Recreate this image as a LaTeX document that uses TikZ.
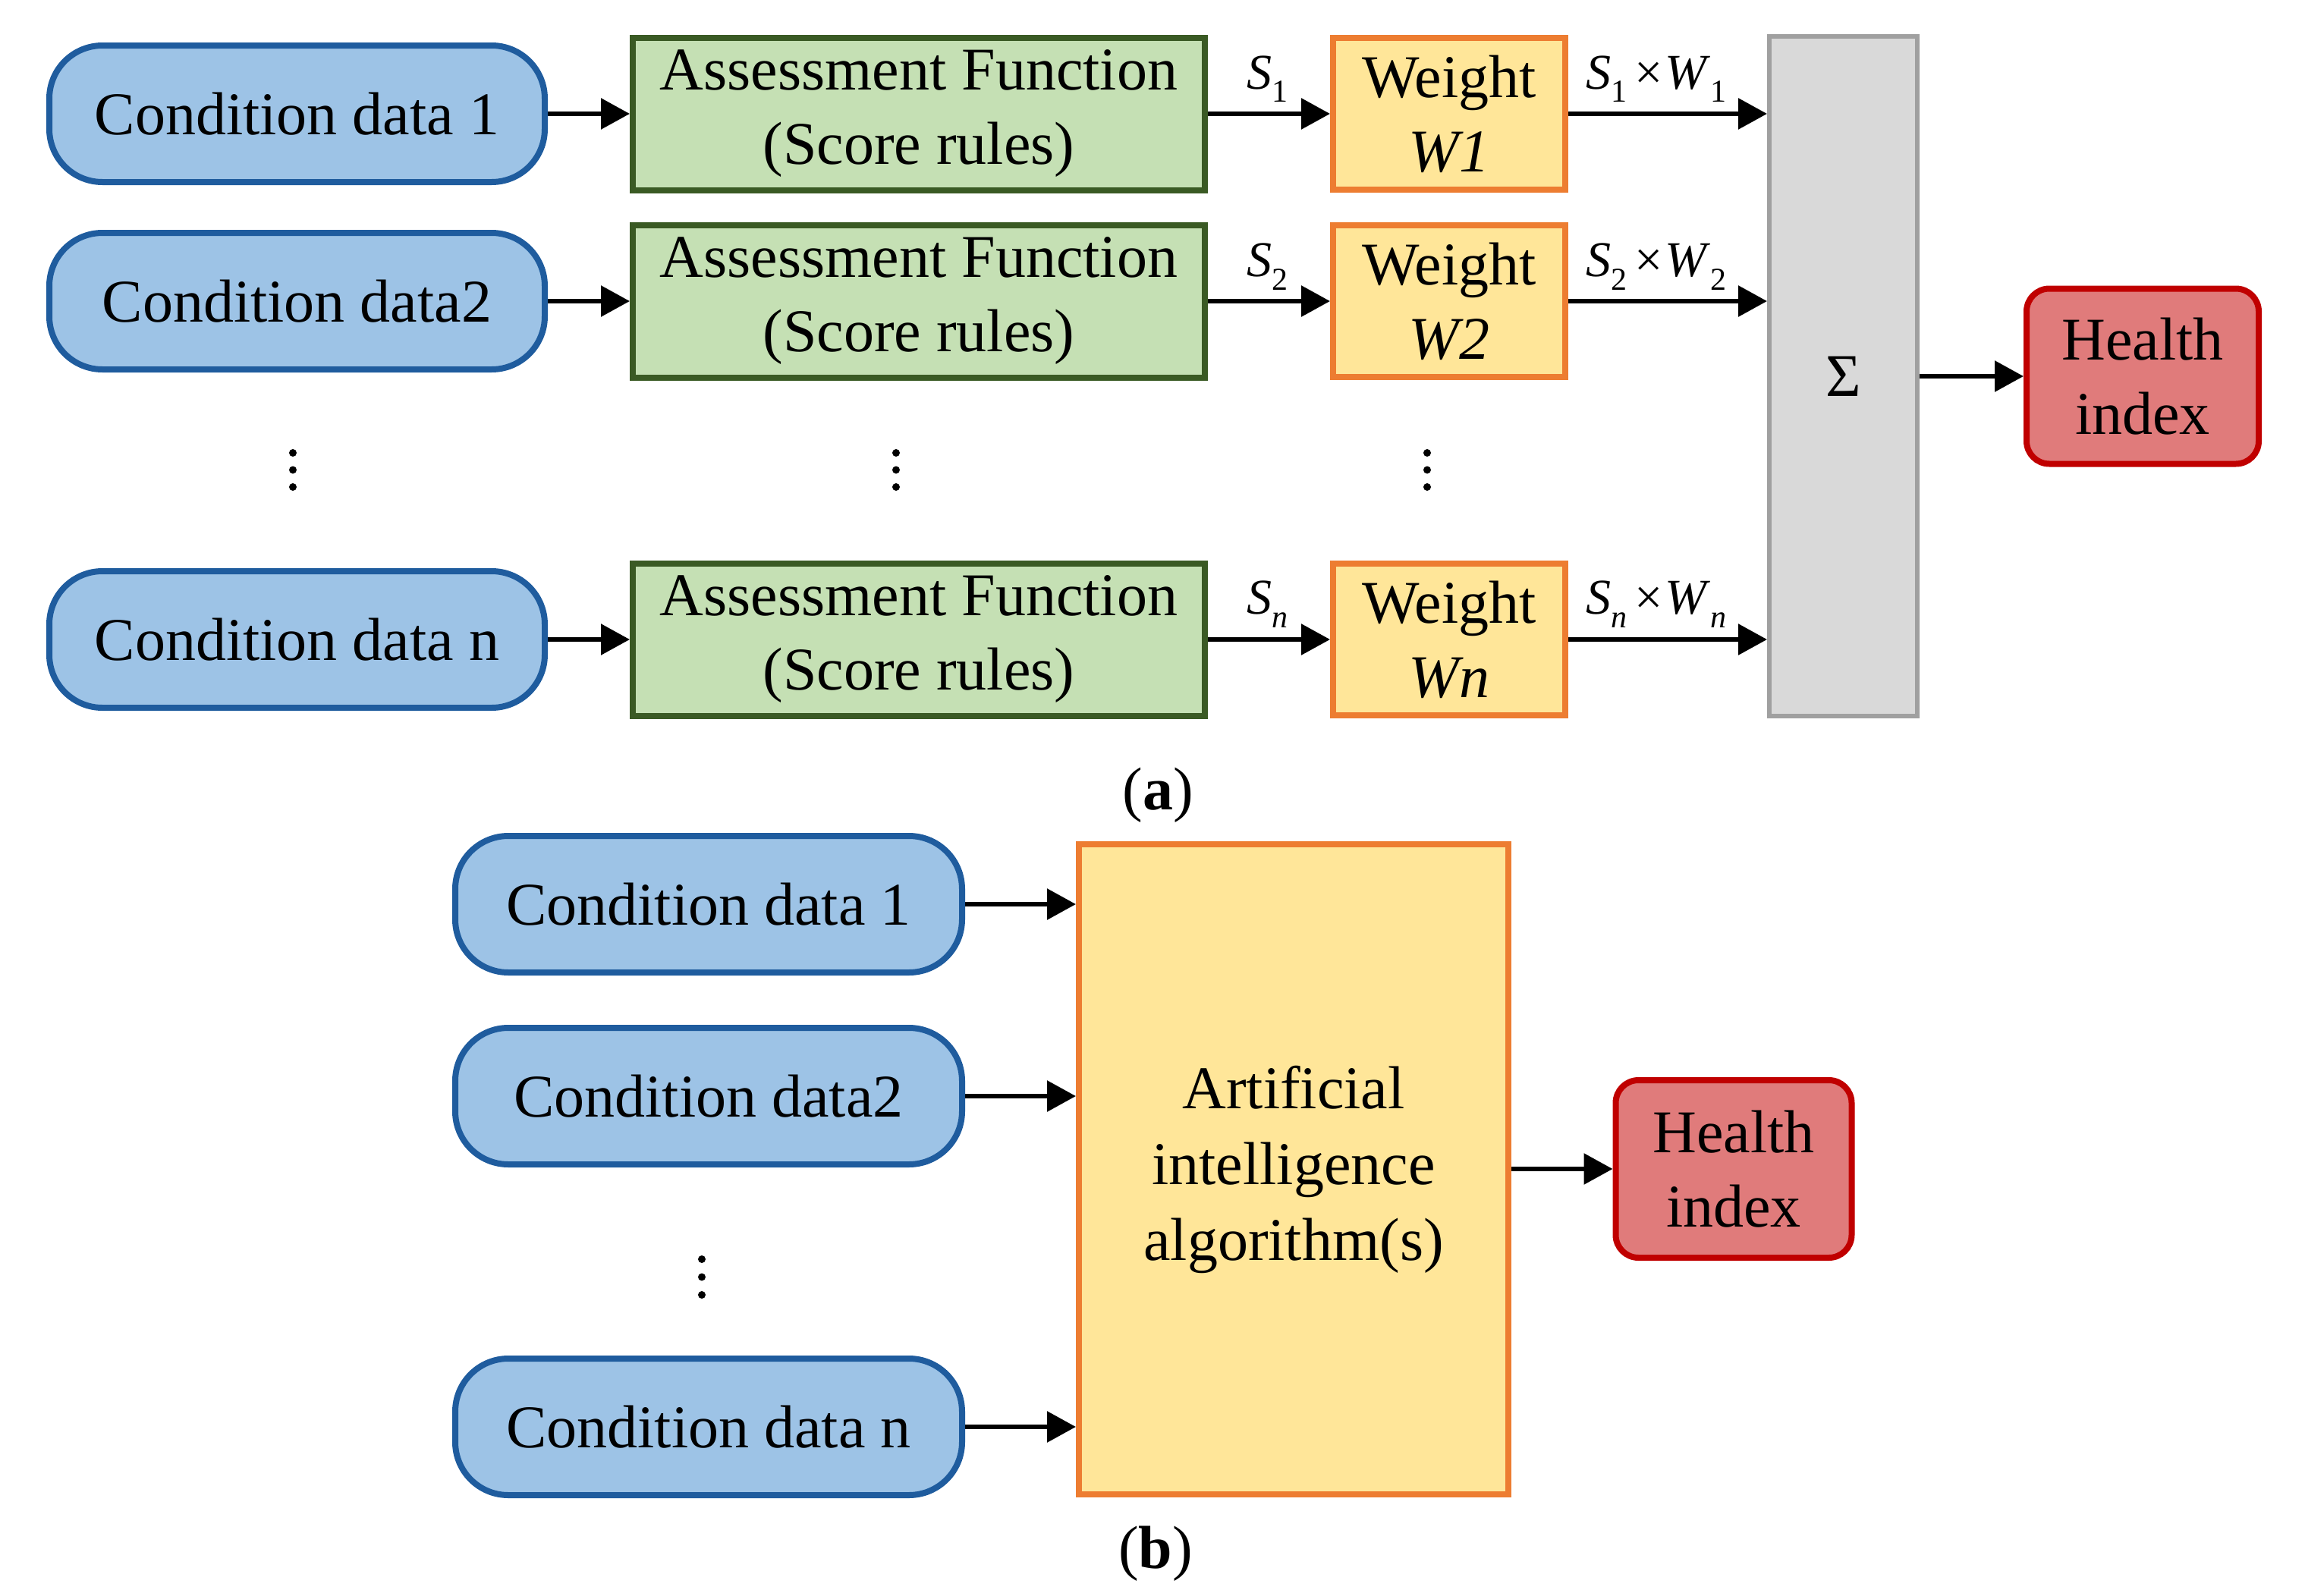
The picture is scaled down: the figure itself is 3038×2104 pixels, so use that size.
\documentclass[tikz,border=0pt]{standalone}
\usepackage{fontspec}
\setmainfont{Liberation Serif}
\usetikzlibrary{arrows.meta}
\definecolor{bfill}{HTML}{9DC3E6}
\definecolor{bline}{HTML}{1F5C9E}
\definecolor{gfill}{HTML}{C5E0B4}
\definecolor{gline}{HTML}{3A5A24}
\definecolor{ofill}{HTML}{FFE699}
\definecolor{oline}{HTML}{ED7D31}
\definecolor{sfill}{HTML}{D9D9D9}
\definecolor{sline}{HTML}{A0A0A0}
\definecolor{rfill}{HTML}{E07B7B}
\definecolor{rline}{HTML}{C00000}
\newcommand{\mysub}[1]{\raisebox{-9pt}{\fontsize{21}{21}\selectfont #1}}
\begin{document}
\begin{tikzpicture}[x=0.5pt,y=-0.5pt,
  txt/.style={font=\fontsize{40}{49}\selectfont, align=center, inner sep=0pt},
  cond/.style={txt, draw=bline, fill=bfill, line width=4pt, rounded corners=35pt, minimum width=326.5pt, minimum height=90pt},
  condb/.style={cond, minimum width=334pt},
  assess/.style={txt, draw=gline, fill=gfill, line width=4pt, minimum width=377pt, minimum height=100.5pt},
  weight/.style={txt, draw=oline, fill=ofill, line width=4pt, minimum width=153pt, minimum height=100pt},
  sumbox/.style={txt, draw=sline, fill=sfill, line width=3pt, minimum width=97.5pt, minimum height=448pt},
  health/.style={txt, draw=rline, fill=rfill, line width=4pt, rounded corners=15pt, minimum width=153pt, minimum height=115.5pt},
  aibox/.style={txt, draw=oline, fill=ofill, line width=4pt, minimum width=283pt, minimum height=428.5pt, font=\fontsize{40}{50}\selectfont},
  lab/.style={font=\fontsize{33}{33}\selectfont, inner sep=0pt, anchor=base},
  captxt/.style={font=\fontsize{40}{49}\selectfont, inner sep=0pt},
  arr/.style={line width=3pt, -{Triangle[length=19pt,width=20pt]}},
  vdot/.style={fill=black}
]
\useasboundingbox (0,0) rectangle (3038,2104);

% ---------- panel (a) ----------
\node[cond] (c1) at (391.5,150) {Condition data 1};
\node[cond] (c2) at (391.5,397) {Condition data2};
\node[cond] (cn) at (391.5,843) {Condition data n};

\node[assess] (a1) at (1211,150) {Assessment Function\\(Score rules)};
\node[assess] (a2) at (1211,397) {Assessment Function\\(Score rules)};
\node[assess] (an) at (1211,843) {Assessment Function\\(Score rules)};

\node[weight] (w1) at (1910,150) {Weight\\\textit{W1}};
\node[weight] (w2) at (1910,397) {Weight\\\textit{W2}};
\node[weight] (wn) at (1910,843) {Weight\\\textit{Wn}};

\node[sumbox] (sum) at (2429.5,496) {Σ};
\node[health] (ha) at (2824,496) {Health\\index};

\draw[arr] (c1.east) -- (c1.east -| a1.west);
\draw[arr] (c2.east) -- (c2.east -| a2.west);
\draw[arr] (cn.east) -- (cn.east -| an.west);
\draw[arr] (a1.east) -- (a1.east -| w1.west);
\draw[arr] (a2.east) -- (a2.east -| w2.west);
\draw[arr] (an.east) -- (an.east -| wn.west);
\draw[arr] (w1.east) -- (w1.east -| sum.west);
\draw[arr] (w2.east) -- (w2.east -| sum.west);
\draw[arr] (wn.east) -- (wn.east -| sum.west);
\draw[arr] (sum.east |- ha.west) -- (ha.west);

\node[lab] (l1) at (1670,117) {\textit{S}\mysub{1}};
\node[lab] (l2) at (1670,364) {\textit{S}\mysub{2}};
\node[lab] (ln) at (1670,809) {\textit{S}\mysub{\textit{n}}};
\node[lab] (m1) at (2183,117) {\textit{S}\mysub{1}\hspace{5pt}×\hspace{1pt}\textit{W}\mysub{1}};
\node[lab] (m2) at (2183,364) {\textit{S}\mysub{2}\hspace{5pt}×\hspace{1pt}\textit{W}\mysub{2}};
\node[lab] (mn) at (2183,809) {\textit{S}\mysub{\textit{n}}\hspace{5pt}×\hspace{1pt}\textit{W}\mysub{\textit{n}}};

\foreach \x in {386,1181,1881}{
  \foreach \y in {597,619.5,642}{
    \fill[vdot] (\x,\y) circle[radius=2.5pt];
  }
}
\node[captxt] (capa) at (1526,1048) {(\textbf{a})};

% ---------- panel (b) ----------
\node[condb] (d1) at (934,1192) {Condition data 1};
\node[condb] (d2) at (934,1445) {Condition data2};
\node[condb] (dn) at (934,1881) {Condition data n};

\node[aibox] (ai) at (1705,1541.5) {Artificial\\intelligence\\algorithm(s)};
\node[health, minimum width=155.5pt, minimum height=117pt] (hb) at (2285,1541) {Health\\index};

\draw[arr] (d1.east) -- (d1.east -| ai.west);
\draw[arr] (d2.east) -- (d2.east -| ai.west);
\draw[arr] (dn.east) -- (dn.east -| ai.west);
\draw[arr] (ai.east |- hb.west) -- (hb.west);

\foreach \y in {1660,1683.5,1707}{
  \fill[vdot] (925,\y) circle[radius=2.5pt];
}
\node[captxt] (capb) at (1523,2048) {(\textbf{b})};
\end{tikzpicture}
\end{document}
